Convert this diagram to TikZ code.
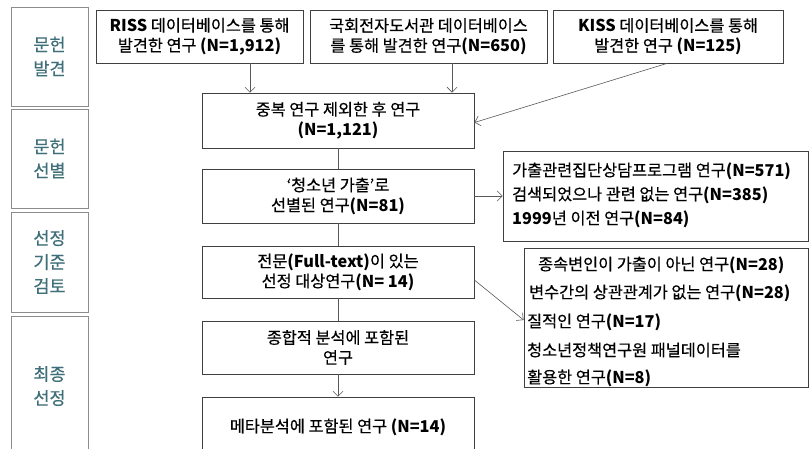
\documentclass[tikz,border=0pt]{standalone}
\usepackage{fontspec}
\setmainfont{Noto Sans CJK KR}[UprightFeatures={FakeBold=0.4}]
\usetikzlibrary{arrows.meta,shadows}
\definecolor{stagecol}{HTML}{3F6F78}
\definecolor{linecol}{HTML}{404040}
\begin{document}
\begin{tikzpicture}[x=1pt,y=-1pt,
  box/.style={draw=linecol, line width=0.8pt, fill=white, inner sep=0pt,
    drop shadow={opacity=0.18,shadow xshift=1.2pt,shadow yshift=-1.2pt},
    align=center, font=\fontsize{16.3}{20}\selectfont},
  stagebox/.style={draw=black!45, line width=0.8pt, fill=white, inner sep=0pt,
    drop shadow={opacity=0.18,shadow xshift=1.2pt,shadow yshift=-1.2pt},
    align=center, text=stagecol, font=\fontsize{17.5}{24}\selectfont},
  extxt/.style={anchor=west, inner sep=0pt, font=\fontsize{16.3}{18}\selectfont},
  conn/.style={draw=black!65, line width=0.6pt},
  arr/.style={conn, -{Straight Barb[length=5pt,width=10pt]}}]
\clip (0,0) rectangle (810,448);
\fill[white] (0,0) rectangle (810,448);

% stage boxes
\node[stagebox, minimum width=77pt, minimum height=99pt] (s1) at (49.5,56.5) {문헌\\발견};
\node[stagebox, minimum width=77pt, minimum height=99pt] (s2) at (49.5,158.5) {문헌\\선별};
\node[stagebox, minimum width=77pt, minimum height=100pt] (s3) at (49.5,262) {선정\\기준\\검토};
\node[stagebox, minimum width=77pt, minimum height=139pt] (s4) at (49.5,385.5) {};
\node[text=stagecol, font=\fontsize{17.5}{24}\selectfont, align=center, inner sep=0pt] (s4t) at (49.5,386) {최종\\선정};

% top boxes
\node[box, minimum width=207pt, minimum height=53pt] (riss) at (199.5,36.5) {\textbf{RISS} 데이터베이스를 통해\\발견한 연구 \textbf{(N=1,912)}};
\node[box, minimum width=237pt, minimum height=53pt] (nal) at (428.5,36.5) {국회전자도서관 데이터베이스\\를 통해 발견한 연구\textbf{(N=650)}};
\node[box, minimum width=230pt, minimum height=53pt] (kiss) at (668,36.5) {\textbf{KISS} 데이터베이스를 통해\\발견한 연구 \textbf{(N=125)}};

% main column
\node[box, minimum width=272pt, minimum height=55pt] (dedup) at (338,120.5) {중복 연구 제외한 후 연구\\\textbf{(N=1,121)}};
\node[box, minimum width=272pt, minimum height=54pt] (youth) at (338,196) {‘청소년 가출’로\\선별된 연구\textbf{(N=81)}};
\node[box, minimum width=272pt, minimum height=52pt] (full) at (338,272) {전문\textbf{(Full-text)}이 있는\\선정 대상연구\textbf{(N= 14)}};
\node[box, minimum width=272pt, minimum height=53pt] (synth) at (338,347.5) {종합적 분석에 포함된\\연구};
\node[box, minimum width=272pt, minimum height=60pt] (meta) at (338,427) {메타분석에 포함된 연구 \textbf{(N=14)}};

% exclusion boxes
\node[box, minimum width=305pt, minimum height=90pt] (ex1) at (655.5,196) {};
\node[box, minimum width=284pt, minimum height=139pt] (ex2) at (666,317.5) {};
\node[extxt] (e11) at (512,171) {가출관련집단상담프로그램 연구\textbf{(N=571)}};
\node[extxt] (e12) at (512,195) {검색되었으나 관련 없는 연구\textbf{(N=385)}};
\node[extxt] (e13) at (512,219) {\textbf{1999}년 이전 연구\textbf{(N=84)}};
\node[extxt] (e21) at (538,265) {종속변인이 가출이 아닌 연구\textbf{(N=28)}};
\node[extxt] (e22) at (529,293) {변수간의 상관관계가 없는 연구\textbf{(N=28)}};
\node[extxt] (e23) at (527,322) {질적인 연구\textbf{(N=17)}};
\node[extxt] (e24) at (527,350) {청소년정책연구원 패널데이터를};
\node[extxt] (e25) at (527,378) {활용한 연구\textbf{(N=8)}};

% connectors
\draw[arr] ([xshift=50.5pt]riss.south) -- ([xshift=50.5pt]riss.south |- dedup.north);
\draw[arr] ([xshift=23.5pt]nal.south) -- ([xshift=23.5pt]nal.south |- dedup.north);
\draw[arr] ([xshift=-1pt]kiss.south) -- ([yshift=-2pt]dedup.east);
\draw[conn] (dedup.south) -- (youth.north);
\draw[conn] (youth.south) -- (full.north);
\draw[conn] (full.south) -- (synth.north);
\draw[arr] (synth.south) -- (meta.north);
\draw[arr] (youth.east) -- (ex1.west);
\draw[arr] ([yshift=-8pt]full.east) -- ([yshift=-2.5pt]ex2.west);
\end{tikzpicture}
\end{document}
